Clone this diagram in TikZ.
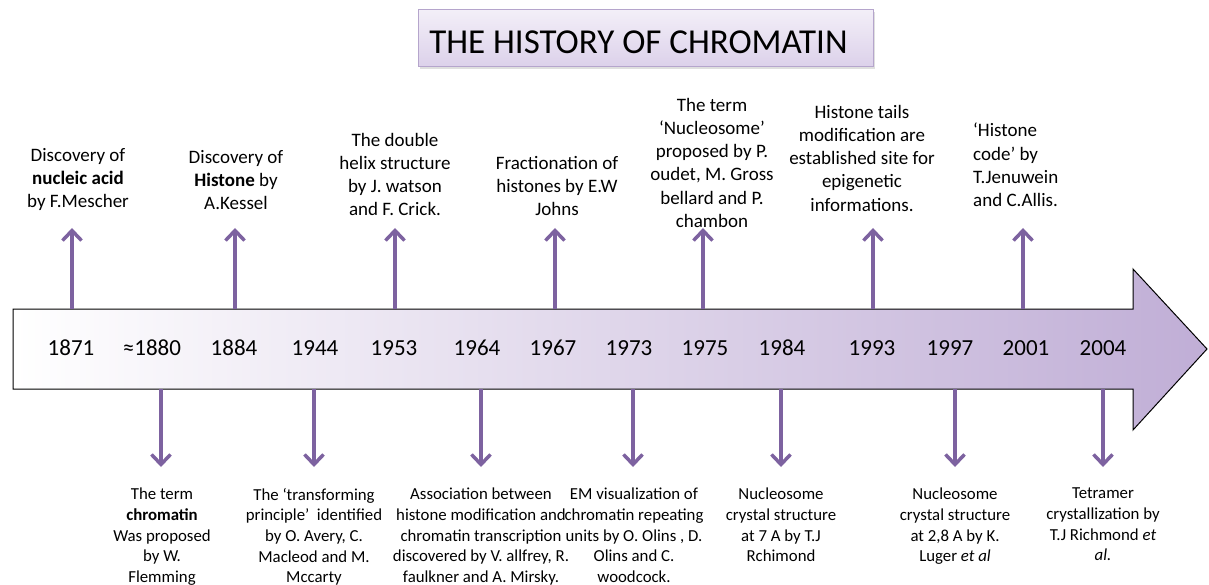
\documentclass[tikz,border=0pt]{standalone}
\usepackage{fontspec}
\setmainfont{Carlito}
\usetikzlibrary{arrows.meta,shadows}
\definecolor{arrpurple}{HTML}{7D62A0}
\definecolor{bandpurple}{HTML}{C0AED6}
\definecolor{titletop}{HTML}{F3EFF8}
\definecolor{titlebot}{HTML}{DCD1EA}
\definecolor{titleborder}{HTML}{B5A5CC}
\tikzset{
  arr/.style={draw=arrpurple, line width=3.5pt, -{Straight Barb[length=10pt,width=19pt,line width=3.5pt]}},
  toptext/.style={anchor=north, inner sep=0pt, align=center, font=\fontsize{19}{23.2}\selectfont},
  bottext/.style={anchor=north, inner sep=0pt, align=center, font=\fontsize{16.8}{20.6}\selectfont},
  year/.style={inner sep=0pt, font=\fontsize{23}{27}\selectfont}
}
\begin{document}
\begin{tikzpicture}[x=1pt,y=-1pt]
\useasboundingbox (0,0) rectangle (1209,585);
% title
\node[draw=titleborder, line width=1pt, top color=titletop, bottom color=titlebot,
  minimum width=455pt, minimum height=57pt, inner sep=0pt,
  drop shadow={opacity=0.25, shadow xshift=2pt, shadow yshift=-3pt}] (title) at (645.5,38) {};
\node[inner sep=0pt, font=\fontsize{35}{40}\selectfont] (titletext) at (638.5,42.5) {THE HISTORY OF CHROMATIN};
% band arrow
\path[draw=black, line width=1pt, shading=axis, left color=white, right color=bandpurple]
  (13,309) -- (1133,309) -- (1133,269) -- (1207,349) -- (1133,430) -- (1133,389) -- (13,389) -- cycle;
% years
\node[year] (y1871) at (71,348) {1871};
\node[year] (y1880) at (152,348) {≈1880};
\node[year] (y1884) at (234,348) {1884};
\node[year] (y1944) at (315,348) {1944};
\node[year] (y1953) at (394,348) {1953};
\node[year] (y1964) at (477,348) {1964};
\node[year] (y1967) at (553,348) {1967};
\node[year] (y1973) at (629,348) {1973};
\node[year] (y1975) at (705,348) {1975};
\node[year] (y1984) at (782,348) {1984};
\node[year] (y1993) at (872,348) {1993};
\node[year] (y1997) at (950,348) {1997};
\node[year] (y2001) at (1026,348) {2001};
\node[year] (y2004) at (1103,348) {2004};
% top texts
\node[toptext] (t1) at (78,148) {Discovery of\\\textbf{nucleic acid}\\by F.Mescher};
\node[toptext] (t2) at (236,150) {Discovery of\\\textbf{Histone} by\\A.Kessel};
\node[toptext] (t3) at (395,133) {The double\\helix structure\\by J. watson\\and F. Crick.};
\node[toptext] (t4) at (557,156) {Fractionation of\\histones by E.W\\Johns};
\node[toptext] (t5) at (712,98) {The term\\‘Nucleosome’\\proposed by P.\\oudet, M. Gross\\bellard and P.\\chambon};
\node[toptext] (t6) at (862,105) {Histone tails\\modification are\\established site for\\epigenetic\\informations.};
\node[toptext, anchor=north west, align=left] (t7) at (973,123) {‘Histone\\code’ by\\T.Jenuwein\\and C.Allis.};
% bottom texts
\node[bottext] (b1) at (162,488) {The term\\\textbf{chromatin}\\Was proposed\\by W.\\Flemming};
\node[bottext] (b2) at (314,488) {The ‘transforming\\principle’\ \ identified\\by O. Avery, C.\\Macleod and M.\\Mccarty};
\node[bottext] (b3) at (481,488) {Association between\\histone modification and\\chromatin transcription\\discovered by V. allfrey, R.\\faulkner and A. Mirsky.};
\node[bottext] (b4) at (634,488) {EM visualization of\\chromatin repeating\\units by O. Olins , D.\\Olins and C.\\woodcock.};
\node[bottext] (b5) at (781,488) {Nucleosome\\crystal structure\\at 7 A by T.J\\Rchimond};
\node[bottext] (b6) at (955,488) {Nucleosome\\crystal structure\\at 2,8 A by K.\\Luger \textit{et al}};
\node[bottext] (b7) at (1103,488) {Tetramer\\crystallization by\\T.J Richmond \textit{et}\\\textit{al.}};
% arrow end points
\foreach \n/\x in {1/72,2/235,3/395,4/555,5/703,6/873,7/1023}{
  \coordinate (ua\n) at (\x,309);
  \coordinate (ub\n) at (\x,228);
}
\foreach \n/\x in {1/161,2/314,3/481,4/633,5/781,6/955,7/1103}{
  \coordinate (da\n) at (\x,389);
  \coordinate (db\n) at (\x,467);
}
\foreach \n in {1,...,7}{
  \draw[arr] (ua\n) -- (ub\n);
  \draw[arr] (da\n) -- (db\n);
}
\end{tikzpicture}
\end{document}
